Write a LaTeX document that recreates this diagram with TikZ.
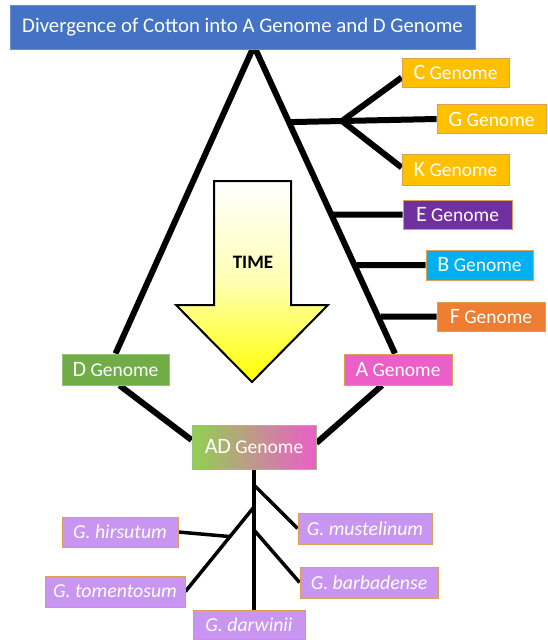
\documentclass[tikz,border=0pt]{standalone}
\usepackage{fontspec}
\setmainfont{Carlito}
\usetikzlibrary{calc,backgrounds}
\definecolor{tblue}{RGB}{68,114,196}
\definecolor{gold}{RGB}{255,192,0}
\definecolor{epurple}{RGB}{112,48,160}
\definecolor{bcyan}{RGB}{0,176,240}
\definecolor{forange}{RGB}{237,125,49}
\definecolor{apink}{RGB}{236,94,200}
\definecolor{dgreen}{RGB}{112,173,71}
\definecolor{adgreen}{RGB}{146,208,80}
\definecolor{spurple}{RGB}{200,150,240}
\definecolor{bord}{RGB}{222,160,80}
\definecolor{dbord}{RGB}{150,195,120}
\newcommand{\glab}[1]{{\fontsize{22}{23}\selectfont #1} Genome}
\begin{document}
\begin{tikzpicture}[x=1pt,y=-1pt,
  box/.style={draw=bord, line width=0.8pt, text=white, inner sep=0pt, align=center,
    font=\fontsize{19.5}{21}\selectfont},
  sp/.style={box, fill=spurple, font=\fontsize{19.8}{21}\selectfont\itshape},
  thickline/.style={line width=6pt, line join=miter},
  treeline/.style={line width=3.5pt}]
\useasboundingbox (0,0) rectangle (548,640);

% boxes
\node[box, fill=gold, minimum width=107, minimum height=29] (C) at (455.5,72.5) {\glab{C}};
\node[box, fill=gold, minimum width=109, minimum height=29] (G) at (491.5,119) {\glab{G}};
\node[box, fill=gold, minimum width=107, minimum height=31] (K) at (455.5,169.5) {\glab{K}};
\node[box, fill=epurple, minimum width=109, minimum height=29] (E) at (457.5,214.5) {\glab{E}};
\node[box, fill=bcyan, minimum width=107, minimum height=30] (B) at (479.5,265) {\glab{B}};
\node[box, fill=forange, minimum width=108, minimum height=29] (F) at (491,316.5) {\glab{F}};
\node[box, fill=apink, minimum width=108, minimum height=31] (A) at (398,369.5) {\glab{A}};
\node[box, draw=dbord, fill=dgreen, minimum width=107, minimum height=31] (D) at (115.5,369.5) {\glab{D}};
\node[box, draw=dbord, left color=adgreen, right color=apink, minimum width=124, minimum height=44] (AD) at (254,447) {\glab{AD}};
\node[sp, minimum width=116, minimum height=30] (hir) at (120,532) {G. hirsutum};
\node[sp, minimum width=140, minimum height=31] (tom) at (115,591.5) {G. tomentosum};
\node[sp, minimum width=112, minimum height=29] (dar) at (249,624.5) {G. darwinii};
\node[sp, minimum width=134, minimum height=31] (mus) at (365,528.5) {G. mustelinum};
\node[sp, minimum width=138, minimum height=31] (bar) at (369,582.5) {G. barbadense};

\coordinate (apex) at (254,46);
\coordinate (fork) at (342,121);
\coordinate (b1) at (254,485);
\coordinate (b2) at (254,530);
\coordinate (b3) at (254,507);
\coordinate (h1) at ($(b3)!0.35!(tom.east)$);

% TIME arrow
\shade[draw=black, line width=2pt, line join=miter, top color=white, bottom color=yellow, middle color=yellow!30]
  (214,181) -- (291,181) -- (291,305) -- (328,305) -- (252,382) -- (176,305) -- (214,305) -- cycle;
\node[font=\fontsize{19}{20}\selectfont\bfseries] (time) at (253,262) {TIME};

\begin{scope}[on background layer]
\fill[white] (0,0) rectangle (548,640);
% triangle
\draw[thickline] (D.north) -- (apex) -- ($(A.north)+(-3,0)$);
\draw[thickline] ($(D.south)+(4,0)$) -- ($(AD.west)+(0,-7)$);
\draw[thickline] ($(A.south)+(-16,0)$) -- ($(AD.east)+(0,-4)$);
% right branches
\draw[thickline] (intersection of apex--A.north and fork--G.west) -- (fork) -- (G.west);
\draw[thickline] (fork) -- ($(C.west)+(0,5)$);
\draw[thickline] (fork) -- ($(K.west)+(0,-2)$);
\draw[thickline] (intersection of apex--A.north and E.west--E.east) -- (E.west);
\draw[thickline] (intersection of apex--A.north and B.west--B.east) -- (B.west);
\draw[thickline] (intersection of apex--A.north and F.west--F.east) -- (F.west);
% species tree
\draw[treeline] (AD.south) -- (AD.south |- dar.north);
\draw[treeline] (b1) -- (mus.west);
\draw[treeline] (b2) -- (bar.west);
\draw[treeline] (b3) -- (tom.east);
\draw[treeline] (hir.east) -- (h1);
\end{scope}

% title on top
\node[fill=tblue, draw=tblue!80!white, line width=0.8pt, text=white, inner sep=0pt,
  minimum width=465, minimum height=44, font=\fontsize{20.8}{22}\selectfont] (title) at (242.5,27)
  {Divergence of Cotton into A Genome and D Genome};
\end{tikzpicture}
\end{document}
